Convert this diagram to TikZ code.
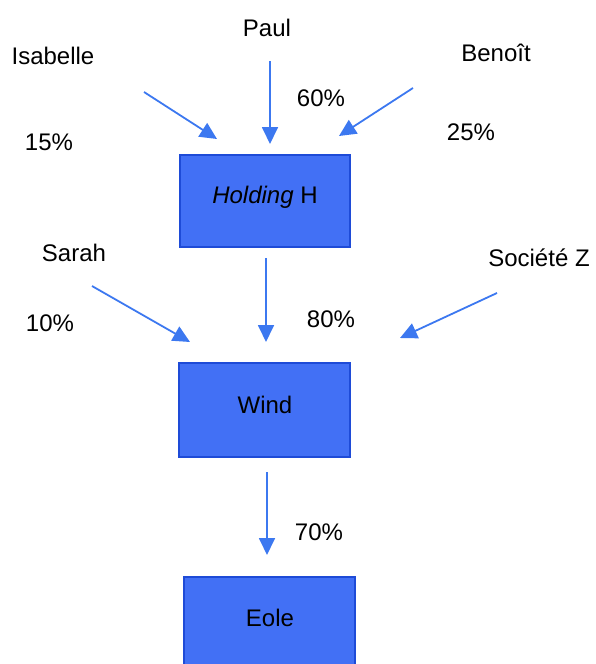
\documentclass[tikz,border=0pt]{standalone}
\usepackage{fontspec}
\setmainfont{Liberation Sans}
\usetikzlibrary{arrows.meta}
\definecolor{boxfill}{RGB}{66,112,245}
\definecolor{boxline}{RGB}{30,75,215}
\definecolor{arrcol}{RGB}{60,120,240}
\tikzset{
  lbl/.style={font=\fontsize{24}{28}\selectfont, inner sep=0pt, anchor=center},
  entbox/.style={draw=boxline, line width=1.3pt, fill=boxfill, inner sep=0pt},
  own/.style={draw=arrcol, line width=1.8pt, -{Triangle[length=17pt,width=16pt]}}
}
\begin{document}
\begin{tikzpicture}[x=1pt,y=-1pt]
\useasboundingbox (0,0) rectangle (596,664);
% boxes
\draw[entbox] (180,155) rectangle (350,247);
\node[lbl] (hold) at (265,197) {\textit{Holding} H};
\draw[entbox] (179,363) rectangle (350,457);
\node[lbl] (wind) at (265,405) {Wind};
\draw[entbox] (184,577) rectangle (355,670);
\node[lbl] (eole) at (270,618) {Eole};
% labels
\node[lbl] (paul) at (267,28) {Paul};
\node[lbl] (isab) at (53,56) {Isabelle};
\node[lbl] (beno) at (496,53) {Benoît};
\node[lbl] (p60) at (321,98) {60\%};
\node[lbl] (p15) at (49,142) {15\%};
\node[lbl] (p25) at (471,132) {25\%};
\node[lbl] (sara) at (74,253) {Sarah};
\node[lbl] (soci) at (539,258) {Société Z};
\node[lbl] (p10) at (50,323) {10\%};
\node[lbl] (p80) at (331,319) {80\%};
\node[lbl] (p70) at (319,532) {70\%};
% arrow endpoints
\coordinate (a1s) at (270,61);  \coordinate (a1e) at (270,144);
\coordinate (a2s) at (144,92);  \coordinate (a2e) at (217,139);
\coordinate (a3s) at (413,88);  \coordinate (a3e) at (339,136);
\coordinate (a4s) at (266,258); \coordinate (a4e) at (266,342);
\coordinate (a5s) at (92,286);  \coordinate (a5e) at (190,342);
\coordinate (a6s) at (497,293); \coordinate (a6e) at (400,338);
\coordinate (a7s) at (267,472); \coordinate (a7e) at (267,555);
\draw[own] (a1s) -- (a1e);
\draw[own] (a2s) -- (a2e);
\draw[own] (a3s) -- (a3e);
\draw[own] (a4s) -- (a4e);
\draw[own] (a5s) -- (a5e);
\draw[own] (a6s) -- (a6e);
\draw[own] (a7s) -- (a7e);
\end{tikzpicture}
\end{document}
